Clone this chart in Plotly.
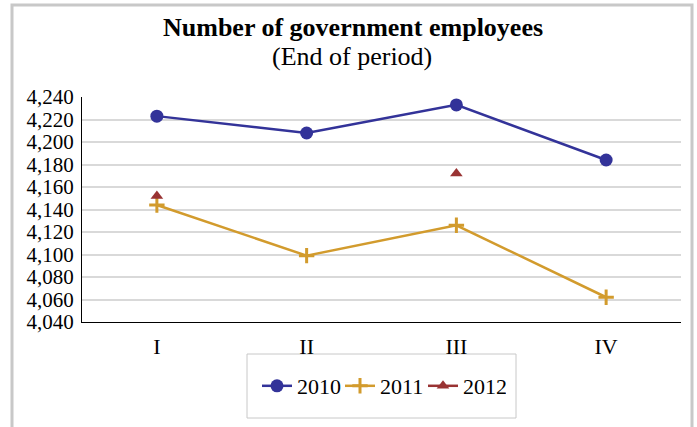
import plotly.graph_objects as go

quarters = ["I", "II", "III", "IV"]
y2010 = [4223, 4208, 4233, 4184]
y2011 = [4144, 4099, 4126, 4062]
y2012 = [4152, None, 4172, None]
y_ticks = list(range(4040, 4241, 20))

W, H = 697, 427
L, R, T, B = 82, 681, 97, 322
pw, ph = R - L, B - T

def px(x):
    return (x - L) / pw

def py(y):
    return (B - y) / ph

FONT = "Liberation Serif"
navy = "#333399"
gold = "#D29B2D"
red = "#993333"

fig = go.Figure()
fig.add_trace(go.Scatter(x=quarters, y=y2010, name="2010", mode="lines+markers",
                         line=dict(color=navy, width=2.5),
                         marker=dict(symbol="circle", size=13, color=navy)))
fig.add_trace(go.Scatter(x=quarters, y=y2011, name="2011", mode="lines+markers",
                         line=dict(color=gold, width=2.5),
                         marker=dict(symbol="cross-thin", size=11, color=gold,
                                     line=dict(width=3, color=gold))))
fig.add_trace(go.Scatter(x=quarters, y=y2012, name="2012", mode="lines+markers",
                         connectgaps=False,
                         line=dict(color=red, width=2.5),
                         marker=dict(symbol="triangle-up", size=11, color=red)))

fig.update_layout(
    width=W, height=H,
    margin=dict(l=L, r=W - R, t=T, b=H - B, pad=0),
    paper_bgcolor="white", plot_bgcolor="white",
    font=dict(family=FONT, size=21, color="black"),
    showlegend=True,
    legend=dict(orientation="h", x=0.5, xanchor="center", y=py(386), yanchor="middle",
                bgcolor="rgba(0,0,0,0)", borderwidth=0,
                font=dict(family=FONT, size=22, color="black"),
                itemwidth=30, entrywidth=38, entrywidthmode="pixels"),
    xaxis=dict(type="category", range=[-0.5, 3.5], showgrid=False,
               showline=True, linecolor="black", linewidth=1.2,
               ticks="", ticklabelstandoff=4,
               tickfont=dict(family=FONT, size=22), fixedrange=True),
    yaxis=dict(range=[4040, 4240], tickvals=y_ticks, tickformat=",d",
               showgrid=True, gridcolor="#D9D9D9", gridwidth=2,
               showline=True, linecolor="black", linewidth=1.2,
               ticks="", ticklabelstandoff=3, zeroline=False,
               tickfont=dict(family=FONT, size=21), fixedrange=True),
    annotations=[
        dict(text="<b>Number of government employees</b>", xref="paper", yref="paper",
             x=px(353), y=py(27), xanchor="center", yanchor="middle", showarrow=False,
             font=dict(family=FONT, size=26, color="black")),
        dict(text="(End of period)", xref="paper", yref="paper",
             x=px(352), y=py(57), xanchor="center", yanchor="middle", showarrow=False,
             font=dict(family=FONT, size=26, color="black")),
    ],
    shapes=[
        dict(type="rect", xref="paper", yref="paper",
             x0=px(12), x1=px(692), y0=py(450), y1=py(5),
             line=dict(color="#C8C8C8", width=3), fillcolor="rgba(0,0,0,0)", layer="below"),
        dict(type="rect", xref="paper", yref="paper",
             x0=px(247), x1=px(516), y0=py(418), y1=py(354),
             line=dict(color="#C8C8C8", width=1), fillcolor="rgba(0,0,0,0)", layer="below"),
    ],
)

fig.write_html(
    "out.html",
    config={"displayModeBar": False},
    post_script="document.body.style.margin='0px';document.body.style.overflow='hidden';",
)
